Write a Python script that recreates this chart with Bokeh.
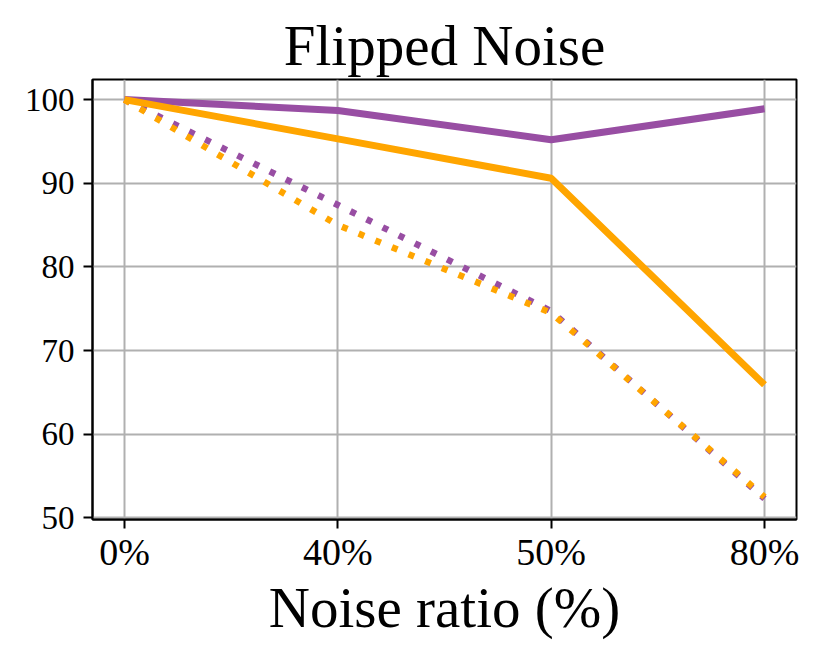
from bokeh.plotting import figure
from bokeh.models import Range1d, FixedTicker
from bokeh.embed import file_html
from bokeh.resources import INLINE

# ---- data ----
noise_labels = ["0%", "40%", "50%", "80%"]
purple_solid = [100.0, 98.7, 95.2, 98.9]
orange_solid = [100.0, 95.3, 90.6, 65.9]
purple_dotted = [100.0, 87.4, 74.7, 52.3]
orange_dotted = [100.0, 85.0, 74.5, 52.5]
y_ticks = [50, 60, 70, 80, 90, 100]

PURPLE = "#984ea3"
ORANGE = "#ffa500"
FONT = "Liberation Serif"

xs = list(range(len(noise_labels)))

p = figure(
    width=822, height=656,
    output_backend="svg", toolbar_location=None,
    x_range=Range1d(-0.15, len(noise_labels) - 1 + 0.15),
    y_range=Range1d(49.8, 102.4),
    min_border_left=92, min_border_right=26,
    min_border_top=79, min_border_bottom=137,
)
p.background_fill_color = "white"
p.border_fill_color = "white"
p.outline_line_color = "black"
p.outline_line_width = 2
p.outline_line_alpha = 1

p.line(xs, purple_solid, line_color=PURPLE, line_width=7)
p.line(xs, purple_dotted, line_color=PURPLE, line_width=6.5, line_dash="6 12")
p.line(xs, orange_solid, line_color=ORANGE, line_width=7)
p.line(xs, orange_dotted, line_color=ORANGE, line_width=6.5, line_dash="6 12")

# title
p.title.text = "Flipped Noise"
p.title.text_font = FONT
p.title.text_font_size = "57px"
p.title.text_font_style = "normal"
p.title.text_color = "black"
p.title.align = "center"
p.title.standoff = 5

# x axis
p.xaxis.ticker = FixedTicker(ticks=xs)
p.xaxis.major_label_overrides = {i: lab for i, lab in enumerate(noise_labels)}
p.xaxis.axis_label = "Noise ratio (%)"
p.xaxis.axis_label_text_font = FONT
p.xaxis.axis_label_text_font_size = "57px"
p.xaxis.axis_label_text_font_style = "normal"
p.xaxis.axis_label_text_color = "black"
p.xaxis.axis_label_standoff = 0
p.xaxis.major_label_text_font = FONT
p.xaxis.major_label_text_font_size = "38px"
p.xaxis.major_label_text_color = "black"
p.xaxis.major_label_standoff = 2

# y axis
p.yaxis.ticker = FixedTicker(ticks=y_ticks)
p.yaxis.major_label_text_font = FONT
p.yaxis.major_label_text_font_size = "33px"
p.yaxis.major_label_text_color = "black"
p.yaxis.major_label_standoff = 9

for ax in (p.xaxis, p.yaxis):
    ax.axis_line_color = "black"
    ax.axis_line_width = 2
    ax.major_tick_line_color = "black"
    ax.major_tick_line_width = 2
    ax.major_tick_out = 9
    ax.major_tick_in = 0
    ax.minor_tick_line_color = None

p.xgrid.grid_line_color = "#b0b0b0"
p.ygrid.grid_line_color = "#b0b0b0"
p.xgrid.grid_line_width = 2
p.ygrid.grid_line_width = 2

open("out.html", "w").write(file_html(p, INLINE))
